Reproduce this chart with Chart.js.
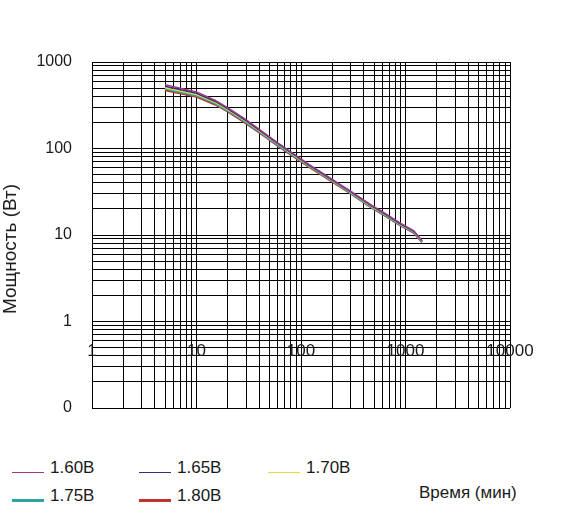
<!DOCTYPE html>
<html lang="ru">

<head>
    <meta charset="UTF-8">
    <script src="https://cdn.jsdelivr.net/npm/chart.js"></script>
    <title>Мощность / Время</title>
    <style>
        body {
            margin: 0;
            background: #fff;
            font-family: "Liberation Sans", Arial, sans-serif;
        }

        #wrap {
            position: relative;
            width: 579px;
            height: 515px;
            overflow: hidden;
        }

        #chart {
            position: absolute;
            left: 0;
            top: 0;
        }

        .leg-line {
            position: absolute;
            width: 32px;
        }

        .leg-text,
        .title {
            position: absolute;
            font-size: 17px;
            color: #1a1a1a;
            line-height: 20px;
            white-space: nowrap;
        }

        #ytitle {
            left: 10px;
            top: 249px;
            font-size: 19px;
            transform: translate(-50%, -50%) rotate(-90deg);
        }
    </style>
</head>

<body>
    <div id="wrap">
        <canvas id="chart" width="579" height="420"></canvas>
        <div class="title" id="ytitle">Мощность (Вт)</div>
        <div class="title" style="left:419px; top:483px;">Время (мин)</div>
        <div id="legend"></div>
    </div>

    <script>
        // time, minutes
        const times = [5, 10, 15, 20, 30, 45, 60, 90, 120, 180, 240, 300, 480, 600, 900, 1200, 1440];

        // power, W, one list per end voltage
        const p160 = [545, 450, 362, 295, 214, 150, 116, 83, 65, 47.5, 38, 32, 21.8, 18.6, 13.6, 11.2, 8.6];
        const p165 = [525, 435, 352, 287, 209, 147, 114, 81.5, 64, 46.8, 37.5, 31.5, 21.4, 18.3, 13.4, 11.1, 8.5];
        const p170 = [505, 420, 342, 280, 204, 144, 112, 80, 63, 46, 37, 31, 21, 18, 13.2, 11.0, 8.4];
        const p175 = [490, 408, 333, 273, 199, 141, 109.5, 78.5, 62, 45.3, 36.4, 30.5, 20.7, 17.7, 13.0, 10.8, 8.3];
        const p180 = [472, 395, 323, 266, 194, 138, 107, 77, 61, 44.5, 35.8, 30, 20.4, 17.4, 12.8, 10.6, 8.2];

        const seriesNames = ['1.60В', '1.65В', '1.70В', '1.75В', '1.80В'];
        const seriesData = [p160, p165, p170, p175, p180];

        // axis ticks
        const xDecades = [1, 10, 100, 1000, 10000];
        const xTickLabels = ['1', '10', '100', '1000', '10000'];
        const yDecades = [0.1, 1, 10, 100, 1000];
        const yTickLabels = ['0', '1', '10', '100', '1000'];
        const minorSteps = [1, 2, 3, 4, 5, 6, 7, 8, 9];

        // styles
        const colors = ['#9a3a8e', '#303078', '#e4dc3a', '#2aa4a4', '#c43030'];
        const widths = [1.5, 1.5, 1.5, 2, 2];

        function logTicks(decades) {
            const out = [];
            for (let i = 0; i < decades.length - 1; i++) {
                minorSteps.forEach(m => out.push({ value: decades[i] * m }));
            }
            out.push({ value: decades[decades.length - 1] });
            return out;
        }

        function labelFor(value, decades, labels) {
            for (let i = 0; i < decades.length; i++) {
                if (Math.abs(value - decades[i]) < decades[i] * 1e-6) return labels[i];
            }
            return '';
        }

        const datasets = seriesData.map((vals, i) => ({
            label: seriesNames[i],
            data: vals.map((v, j) => ({ x: times[j], y: v })),
            borderColor: colors[i],
            backgroundColor: colors[i],
            borderWidth: widths[i],
            pointRadius: 0,
            tension: 0,
            fill: false
        }));

        const ctx = document.getElementById('chart').getContext('2d');
        new Chart(ctx, {
            type: 'line',
            data: { datasets: datasets },
            options: {
                responsive: false,
                animation: false,
                devicePixelRatio: 1,
                layout: { padding: { left: 0, top: 62, right: 69, bottom: 12 } },
                plugins: {
                    legend: { display: false },
                    tooltip: { enabled: false }
                },
                scales: {
                    x: {
                        type: 'logarithmic',
                        min: 1,
                        max: 10000,
                        // labels sit inside the plot, like the original
                        position: { y: 0.6 },
                        afterBuildTicks: scale => { scale.ticks = logTicks(xDecades); },
                        afterFit: scale => { scale.height = 0; },
                        grid: { color: '#000', lineWidth: 1, drawTicks: false },
                        border: { display: false },
                        ticks: {
                            autoSkip: false,
                            maxRotation: 0,
                            padding: 0,
                            color: '#1a1a1a',
                            font: { family: 'Liberation Sans', size: 17 },
                            callback: value => labelFor(value, xDecades, xTickLabels)
                        }
                    },
                    y: {
                        type: 'logarithmic',
                        min: 0.1,
                        max: 1000,
                        position: 'left',
                        afterBuildTicks: scale => { scale.ticks = logTicks(yDecades); },
                        afterFit: scale => {
                            scale.width = 92;
                            // tick padding would otherwise push the plot bottom up
                            scale.paddingTop = 0;
                            scale.paddingBottom = 0;
                        },
                        grid: { color: '#000', lineWidth: 1, drawTicks: false },
                        border: { color: '#000' },
                        ticks: {
                            autoSkip: false,
                            padding: 20,
                            color: '#1a1a1a',
                            font: { family: 'Liberation Sans', size: 16 },
                            callback: value => labelFor(value, yDecades, yTickLabels)
                        }
                    }
                }
            }
        });

        // legend, two rows
        const legendPos = [
            { x: 12, y: 468 }, { x: 139, y: 468 }, { x: 268, y: 468 },
            { x: 12, y: 496 }, { x: 139, y: 496 }
        ];
        const legend = document.getElementById('legend');
        seriesNames.forEach((name, i) => {
            const p = legendPos[i];
            const h = widths[i] >= 2 ? 3 : 1;
            legend.innerHTML +=
                `<div class="leg-line" style="left:${p.x}px; top:${p.y + 4 - Math.floor(h / 2)}px; height:${h}px; background:${colors[i]}"></div>` +
                `<div class="leg-text" style="left:${p.x + 38}px; top:${p.y - 10}px;">${name}</div>`;
        });
    </script>
</body>

</html>
